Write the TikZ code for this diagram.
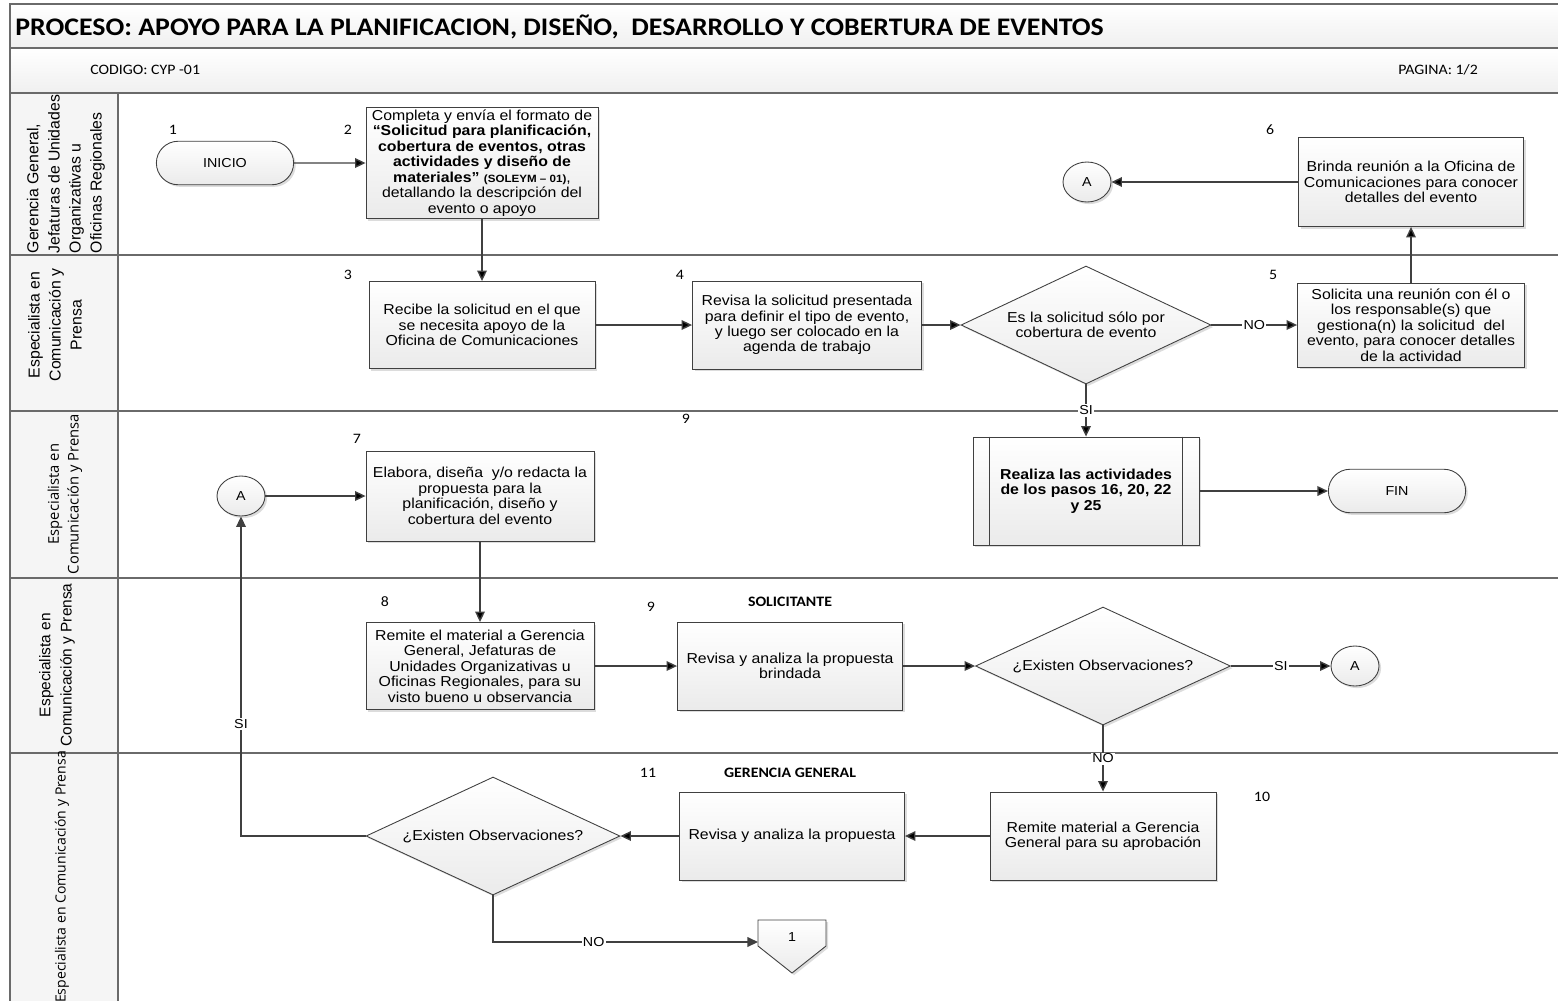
\documentclass[tikz,border=0pt]{standalone}
\usepackage{fontspec}
\setmainfont{Liberation Sans}
\newfontfamily\boxtxt[FakeStretch=1.1]{Liberation Sans}
\newfontfamily\hdrtxt[FakeStretch=1.1]{Carlito}
\newfontfamily\lanetxt{Liberation Sans}
\newfontfamily\lanetxtb{Open Sans}
\usetikzlibrary{arrows.meta,shapes.geometric,shapes.misc,shadows}
\definecolor{linec}{HTML}{404040}
\definecolor{framec}{HTML}{6A6A6A}

\begin{document}
\begin{tikzpicture}[x=0.02cm,y=-0.02cm,
   >={Triangle[length=6pt,width=5.5pt]},
   flow/.style={->,draw=linec,line width=0.8pt},
   shade/.style={top color=white,bottom color=gray!16,
      drop shadow={shadow xshift=1.2pt,shadow yshift=-1.2pt,fill=gray!60,opacity=.45}},
   proc/.style={rectangle,draw=linec,line width=0.5pt,shade,align=center,
      inner sep=1pt,font=\boxtxt\fontsize{8.2}{8.8}\selectfont},
   dec/.style={diamond,aspect=2.1,draw=linec,line width=0.5pt,shade,align=center,
      inner sep=0pt,minimum height=2.36cm,font=\boxtxt\fontsize{8.2}{8.8}\selectfont},
   term/.style={rounded rectangle,draw=linec,line width=0.5pt,shade,
      minimum width=2.98cm,minimum height=0.87cm,font=\boxtxt\fontsize{7.4}{8}\selectfont},
   conn/.style={ellipse,draw=linec,line width=0.5pt,shade,inner sep=0pt,
      minimum width=0.96cm,minimum height=0.8cm,font=\boxtxt\fontsize{7.4}{8}\selectfont},
   num/.style={inner sep=0pt,font=\hdrtxt\fontsize{8.2}{9}\selectfont},
   lbl/.style={fill=white,inner sep=0.8pt,font=\boxtxt\fontsize{7.4}{8}\selectfont},
   lanelbl/.style={rotate=90,align=center,inner sep=0pt},
   laneline/.style={draw=framec,line width=1.1pt}]

   \useasboundingbox (0,0) rectangle (1558,1001);

   % marco y cabecera
   \fill[top color=white,bottom color=gray!12] (10,4) rectangle (1558,48);
   \fill[top color=white,bottom color=gray!12] (10,48) rectangle (1558,93);
   \fill[gray!8] (10,93) rectangle (118,1001);
   \draw[framec,line width=0.9pt] (1558,4) -- (10,4) -- (10,1001);
   \draw[framec,line width=0.9pt] (10,48) -- (1558,48);
   \draw[framec,line width=1.1pt] (10,93) -- (1558,93);
   \draw[framec,line width=0.9pt] (118,93) -- (118,1001);
   \draw[laneline] (10,255) -- (1558,255);
   \draw[laneline] (10,411) -- (1558,411);
   \draw[laneline] (10,578) -- (1558,578);
   \draw[laneline] (10,753) -- (1558,753);

   \node[anchor=west,inner sep=0pt,font=\hdrtxt\bfseries\fontsize{14.4}{15}\selectfont] (title) at (15,27)
      {PROCESO: APOYO PARA LA PLANIFICACION, DISEÑO,\ \ DESARROLLO Y COBERTURA DE EVENTOS};
   \node[num,anchor=west] (codigo) at (90,70) {CODIGO: CYP -01};
   \node[num,anchor=west] (pagina) at (1398,70) {PAGINA: 1/2};

   % carriles
   \node[lanelbl,align=left,font=\lanetxt\fontsize{9}{12}\selectfont] (l1) at (66,174)
      {Gerencia General,\\Jefaturas de Unidades\\Organizativas u\\Oficinas Regionales};
   \node[lanelbl,font=\lanetxt\fontsize{9}{12}\selectfont] (l2) at (55,325)
      {Especialista en\\Comunicación y\\Prensa};
   \node[lanelbl,font=\lanetxtb\fontsize{8.4}{11.2}\selectfont] (l3) at (65,494)
      {Especialista en\\Comunicación y Prensa};
   \node[lanelbl,font=\lanetxt\fontsize{8.8}{12}\selectfont] (l4) at (57,665)
      {Especialista en\\Comunicación y Prensa};
   \node[lanelbl,font=\lanetxtb\fontsize{8}{11}\selectfont] (l5) at (62,877)
      {Especialista en Comunicación y Prensa};

   % numeros de paso
   \node[num] (n1) at (173,130) {1};
   \node[num] (n2) at (348,130) {2};
   \node[num] (n6) at (1270,130) {6};
   \node[num] (n3) at (348,275) {3};
   \node[num] (n4) at (680,275) {4};
   \node[num] (n5) at (1273,275) {5};
   \node[num] (n9a) at (686,419) {9};
   \node[num] (n7) at (357,439) {7};
   \node[num] (n8) at (385,602) {8};
   \node[num] (n9) at (651,607) {9};
   \node[num,font=\hdrtxt\bfseries\fontsize{8.2}{9}\selectfont] (sol) at (790,602) {SOLICITANTE};
   \node[num] (n11) at (648,773) {11};
   \node[num,font=\hdrtxt\bfseries\fontsize{8.2}{9}\selectfont] (ger) at (790,773) {GERENCIA GENERAL};
   \node[num] (n10) at (1262,797) {10};

   % pasos
   \node[term] (ini) at (225,163) {INICIO};
   \node[proc,minimum width=4.64cm,minimum height=2.22cm] (s2) at (482,163)
      {Completa y envía el formato de\\
       \textbf{“Solicitud para planificación,}\\
       \textbf{cobertura de eventos, otras}\\
       \textbf{actividades y diseño de}\\
       \textbf{materiales”} {\fontsize{6}{7}\selectfont\textbf{(SOLEYM – 01)}},\\
       detallando la descripción del\\
       evento o apoyo};
   \node[proc,minimum width=4.5cm,minimum height=1.78cm] (s6) at (1411,182)
      {Brinda reunión a la Oficina de\\Comunicaciones para conocer\\detalles del evento};
   \node[conn] (a1) at (1087,182) {A};

   \node[proc,minimum width=4.52cm,minimum height=1.74cm] (s3) at (482,325)
      {Recibe la solicitud en el que\\se necesita apoyo de la\\Oficina de Comunicaciones};
   \node[proc,minimum width=4.58cm,minimum height=1.76cm] (s4) at (807,325)
      {Revisa la solicitud presentada\\para definir el tipo de evento,\\y luego ser colocado en la\\agenda de trabajo};
   \node[dec,minimum width=5cm] (d1) at (1086,325)
      {Es la solicitud sólo por\\cobertura de evento};
   \node[proc,minimum width=4.54cm,minimum height=1.68cm] (s5) at (1411,325)
      {Solicita una reunión con él o\\los responsable(s) que\\gestiona(n) la solicitud\ \ del\\evento, para conocer detalles\\de la actividad};

   \node[conn] (a2) at (241,496) {A};
   \node[proc,minimum width=4.56cm,minimum height=1.8cm] (s7) at (480,496)
      {Elabora, diseña\ \ y/o redacta la\\propuesta para la\\planificación, diseño y\\cobertura del evento};
   \node[proc,minimum width=4.52cm,minimum height=2.16cm,font=\boxtxt\bfseries\fontsize{8.2}{8.8}\selectfont] (sub) at (1086,491)
      {Realiza las actividades\\de los pasos 16, 20, 22\\y 25};
   \draw[linec,line width=0.5pt] ([xshift=0.34cm]sub.north west) -- ([xshift=0.34cm]sub.south west);
   \draw[linec,line width=0.5pt] ([xshift=-0.34cm]sub.north east) -- ([xshift=-0.34cm]sub.south east);
   \node[term] (fin) at (1397,491) {FIN};

   \node[proc,minimum width=4.56cm,minimum height=1.74cm] (s8) at (480,666)
      {Remite el material a Gerencia\\General, Jefaturas de\\Unidades Organizativas u\\Oficinas Regionales, para su\\visto bueno u observancia};
   \node[proc,minimum width=4.5cm,minimum height=1.76cm] (s9) at (790,666)
      {Revisa y analiza la propuesta\\brindada};
   \node[dec,minimum width=5.1cm] (d2) at (1103,666) {¿Existen Observaciones?};
   \node[conn] (a3) at (1355,666) {A};

   \node[proc,minimum width=4.52cm,minimum height=1.76cm] (s10) at (1103,836)
      {Remite material a Gerencia\\General para su aprobación};
   \node[proc,minimum width=4.5cm,minimum height=1.76cm] (s11) at (792,836)
      {Revisa y analiza la propuesta};
   \node[dec,minimum width=5.08cm] (d3) at (493,836) {¿Existen Observaciones?};

   % conector a pagina siguiente
   \path[shade,draw=linec,line width=0.5pt] (758,920) -- (826,920) -- (826,946) -- (792,973) -- (758,946) -- cycle;
   \node[num,font=\boxtxt\fontsize{7.4}{8}\selectfont] (c1) at (792,937) {1};
   \coordinate (c1in) at (758,942);

   % flechas
   \path[flow] (ini) edge (s2);
   \path[flow] (s2) edge (s3);
   \path[flow] (s3) edge (s4);
   \path[flow] (s4) edge (d1);
   \path[flow] (d1) edge node[lbl] {NO} (s5);
   \path[flow] (s5) edge (s6);
   \path[flow] (s6) edge (a1);
   \path[flow] (d1) edge node[lbl] {SI} (sub);
   \path[flow] (sub) edge (fin);
   \path[flow] (a2) edge (s7);
   \path[flow] (s7) edge (s8);
   \path[flow] (s8) edge (s9);
   \path[flow] (s9) edge (d2);
   \path[flow] (d2) edge node[lbl] {SI} (a3);
   \path[flow] (d2) edge node[lbl] {NO} (s10);
   \path[flow] (s10) edge (s11);
   \path[flow] (s11) edge (d3);
   \draw[flow] (d3) -| node[lbl,pos=0.675] {SI} (a2);
   \draw[flow] (d3) |- node[lbl,pos=0.69] {NO} (c1in);

\end{tikzpicture}
\end{document}
